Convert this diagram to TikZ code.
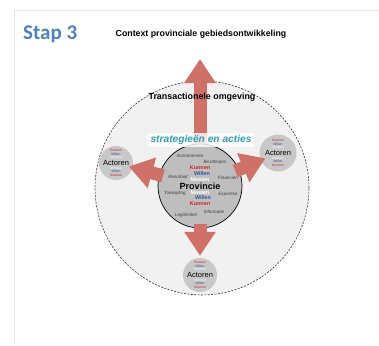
\documentclass[tikz,border=0pt]{standalone}
\usepackage{fontspec}
\setmainfont{Liberation Sans}
\newfontfamily\stapfont{Carlito}
\usetikzlibrary{arrows.meta}
\definecolor{arrowred}{RGB}{208,113,105}
\definecolor{kred}{RGB}{205,35,35}
\definecolor{wblue}{RGB}{45,80,150}
\definecolor{stapblue}{RGB}{79,129,189}
\definecolor{teal}{RGB}{52,158,178}
\definecolor{framegray}{RGB}{228,228,228}
\definecolor{envfill}{RGB}{241,241,241}
\definecolor{provfill}{RGB}{190,190,190}
\definecolor{actfill}{RGB}{200,200,200}
\newcommand{\fs}[1]{\fontsize{#1}{#1}\selectfont}
\newcommand{\actorstack}{%
  {\color{kred}Kunnen}\\{\color{wblue}Willen}\\{\color{white}Moeten}\\[0.6pt]
  {\fs{7.5}Actoren}\\[0.6pt]
  {\color{white}Moeten}\\{\color{wblue}Willen}\\{\color{kred}Kunnen}}
\tikzset{
  actor/.style={circle, fill=actfill, minimum size=34pt, inner sep=0pt},
  actortxt/.style={align=center, inner sep=0pt, font=\fs{3.4}},
  bigarrow/.style={draw=arrowred, line width=13pt, -{Triangle[width=30pt,length=24pt]}, arrowred},
  motive/.style={inner sep=0pt, font=\fs{5.4}\bfseries},
  asset/.style={inner sep=0pt, font=\fs{4.6}\itshape, text=black!75},
}
\begin{document}
\begin{tikzpicture}[x=1pt,y=-1pt]
\useasboundingbox (0,0) rectangle (379,345);
% page frame
\draw[framegray, line width=0.9pt] (14,345) -- (14,10) -- (379,10);
% headings
\node[font=\stapfont\fs{21}\bfseries, text=stapblue, anchor=west, inner sep=0pt] (stap) at (23,34) {Stap 3};
\node[font=\fs{8.8}\bfseries, inner sep=0pt] (title) at (201,34) {Context provinciale gebiedsontwikkeling};
% transactional environment
\node[circle, draw=black!80, dash pattern=on 2pt off 1.4pt, line width=0.6pt, fill=envfill, minimum size=214pt, inner sep=0pt] (env) at (202,188) {};
% actors
\node[actor] (actL) at (116,163) {};
\node[actortxt] (actLt) at (actL) {\actorstack};
\node[actor, minimum size=37pt] (actR) at (278,153) {};
\node[actortxt] (actRt) at (actR) {\actorstack};
\node[actor] (actB) at (200,275) {};
\node[actortxt] (actBt) at (actB) {\actorstack};
% province
\node[circle, draw=black, line width=0.7pt, fill=provfill, minimum size=84pt, inner sep=0pt] (prov) at (200,186) {};
\node[asset] (a1) at (190,156) {Instrumenten};
\node[asset] (a2) at (215,162) {Bezittingen};
\node[asset] (a3) at (178,177) {Resultaat};
\node[asset] (a4) at (228,178) {Financiën};
\node[asset] (a5) at (175,193.5) {Toewijding};
\node[asset] (a6) at (228,194) {Expertise};
\node[asset] (a7) at (214,212) {Informatie};
\node[asset] (a8) at (186,215) {Legitimiteit};
\node[motive, text=kred] (m1) at (200,168) {Kunnen};
\node[motive, text=wblue] (m2) at (202,174) {Willen};
\node[motive, text=white] (m3) at (200,179.8) {Moeten};
\node[font=\fs{9}\bfseries, inner sep=0pt] (provlabel) at (200,186.5) {Provincie};
\node[motive, text=white] (m4) at (200,192.8) {Moeten};
\node[motive, text=wblue] (m5) at (203,198) {Willen};
\node[motive, text=kred] (m6) at (200,203.5) {Kunnen};
% block arrows from the province outward
\coordinate (topTip) at (200,59);
\draw[bigarrow, shorten <=-4pt, shorten >=-4pt] (prov) -- (actL);
\draw[bigarrow, shorten <=-4pt, shorten >=-5pt] (prov) -- (actR);
\draw[bigarrow, shorten <=-4pt, shorten >=2pt] (prov) -- (actB);
\draw[bigarrow] (prov) -- (topTip);
% labels over the arrows
\node[font=\fs{8.9}\bfseries, inner sep=0pt] (envlabel) at (202,97) {Transactionele omgeving};
\node[fill=white, fill opacity=0.8, text opacity=1, rounded corners=1pt, inner xsep=3pt, inner ysep=2pt, font=\fs{10.2}\bfseries\itshape, text=teal] (strat) at (201,140) {strategieën en acties};
\end{tikzpicture}
\end{document}
